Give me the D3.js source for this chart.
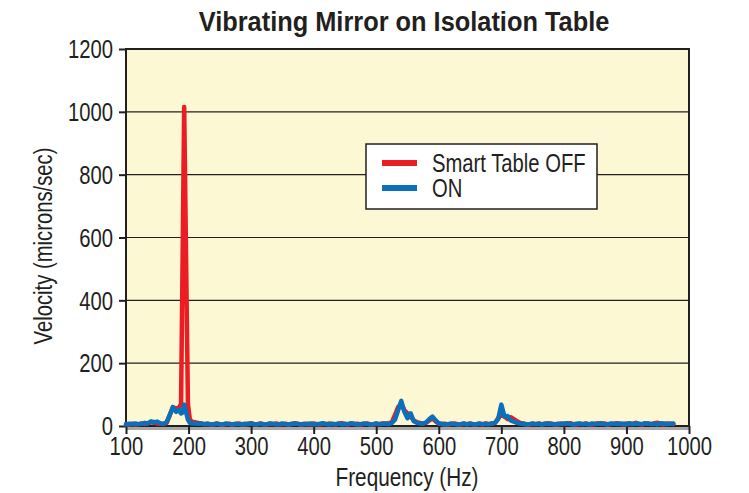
<!DOCTYPE html>
<head>
  <meta charset="utf-8">
  <script src="https://d3js.org/d3.v7.min.js"></script>
  <style>
    body { margin:0; background:#fff; }
    text { fill:#231f20; font-family:"Liberation Sans",Arial,sans-serif; }
  </style>
</head>
<body>
<script>
// frequency (Hz), shared by both series
var freq = [
  100,105,110,115,120,125,130,135,140,145,
  150,155,160,165,170,175,180,185,188,190,
  193,196,199,202,205,210,215,220,225,230,
  235,240,245,250,255,260,265,270,275,280,
  285,290,295,300,305,310,315,320,325,330,
  335,340,345,350,355,360,365,370,375,380,
  385,390,395,400,405,410,415,420,425,430,
  435,440,445,450,455,460,465,470,475,480,
  485,490,495,500,505,510,515,520,525,530,
  535,540,545,550,555,560,565,570,575,580,
  585,590,595,600,605,610,615,620,625,630,
  635,640,645,650,655,660,665,670,675,680,
  685,690,695,700,705,710,715,720,725,730,
  735,740,745,750,755,760,765,770,775,780,
  785,790,795,800,805,810,815,820,825,830,
  835,840,845,850,855,860,865,870,875,880,
  885,890,895,900,905,910,915,920,925,930,
  935,940,945,950,955,960,965,970,975
];

// Smart Table OFF (microns/sec)
var offValues = [
  6,5,7,5,6,8,6,9,12,10,
  8,7,6,10,35,60,55,60,70,440,
  1015,540,70,22,14,12,10,8,6,7,
  5,6,8,5,4,6,7,5,6,8,
  6,5,7,9,6,5,8,6,5,7,
  6,8,5,6,7,5,6,9,7,5,
  6,7,5,8,6,5,7,6,8,6,
  5,7,9,6,5,8,6,7,5,6,
  8,6,5,7,6,8,7,9,12,35,
  60,70,50,40,30,18,12,10,8,10,
  18,25,15,8,6,7,5,6,8,6,
  5,7,6,8,5,6,7,5,8,6,
  8,10,25,35,30,22,28,22,15,10,
  8,6,5,7,6,8,5,6,9,7,
  6,5,8,6,7,9,6,5,7,6,
  8,6,5,7,9,6,8,5,6,7,
  9,6,5,8,6,7,10,6,5,8,
  7,6,9,10,6,5,8,7,6
];

// Smart Table ON (microns/sec)
var onValues = [
  5,7,6,8,6,7,10,8,15,12,
  14,8,7,12,35,60,45,52,40,42,
  68,45,20,10,8,9,7,8,6,7,
  6,5,7,6,5,8,6,5,7,6,
  5,7,6,8,5,6,7,5,6,8,
  7,5,6,8,6,5,7,8,6,5,
  7,6,8,5,6,7,9,6,5,7,
  6,8,5,7,6,9,7,5,6,8,
  7,5,6,8,6,7,8,6,10,20,
  50,80,45,25,40,15,10,8,8,12,
  22,30,18,8,7,5,6,8,6,5,
  6,8,5,7,6,5,8,6,7,6,
  8,10,22,68,30,32,18,14,10,8,
  7,5,6,8,6,7,5,8,6,7,
  5,7,6,8,9,6,5,7,8,6,
  7,5,8,6,7,9,6,5,8,7,
  6,8,7,5,9,6,8,7,6,9,
  8,6,7,5,9,8,6,7,8
];

var xTicks = [100,200,300,400,500,600,700,800,900,1000];
var yTicks = [0,200,400,600,800,1000,1200];

var width = 749, height = 493;
var plotLeft = 126, plotRight = 689, plotTop = 49, plotBottom = 426;
var squeeze = 0.81; // the original face is a condensed one

var svg = d3.select("body").append("svg")
  .attr("width", width)
  .attr("height", height);

var x = d3.scaleLinear().domain([100, 1000]).range([plotLeft, plotRight]);
var y = d3.scaleLinear().domain([0, 1200]).range([plotBottom, plotTop]);

// plot background
svg.append("rect")
  .attr("x", plotLeft).attr("y", plotTop)
  .attr("width", plotRight - plotLeft).attr("height", plotBottom - plotTop)
  .attr("fill", "#fdf8d4");

// grid lines
svg.selectAll(".grid")
  .data(yTicks.slice(1, -1))
  .enter().append("line")
  .attr("x1", plotLeft).attr("x2", plotRight)
  .attr("y1", function(d) { return y(d); })
  .attr("y2", function(d) { return y(d); })
  .attr("stroke", "#231f20").attr("stroke-width", 1.2);

// shadow under bottom axis
svg.append("line")
  .attr("x1", plotLeft).attr("x2", plotRight)
  .attr("y1", plotBottom + 2.5).attr("y2", plotBottom + 2.5)
  .attr("stroke", "#a7a7a7").attr("stroke-width", 3);

// frame
svg.append("rect")
  .attr("x", plotLeft).attr("y", plotTop)
  .attr("width", plotRight - plotLeft).attr("height", plotBottom - plotTop)
  .attr("fill", "none")
  .attr("stroke", "#231f20").attr("stroke-width", 2);

// axes
var yAxis = svg.append("g")
  .attr("transform", "translate(" + plotLeft + ",0)")
  .call(d3.axisLeft(y).tickValues(yTicks).tickSize(7).tickPadding(6).tickFormat(d3.format("d")));
var xAxis = svg.append("g")
  .attr("transform", "translate(0," + plotBottom + ")")
  .call(d3.axisBottom(x).tickValues(xTicks).tickSize(8).tickPadding(3).tickFormat(d3.format("d")));

[yAxis, xAxis].forEach(function(g) {
  g.select(".domain").remove();
  g.selectAll(".tick line").attr("stroke", "#231f20").attr("stroke-width", 2);
  g.selectAll(".tick text")
    .style("font-family", '"Liberation Sans",Arial,sans-serif')
    .style("font-size", "25px")
    .attr("fill", "#231f20");
});
yAxis.selectAll(".tick text")
  .attr("x", -13 / squeeze)
  .attr("dy", "0.35em")
  .attr("transform", "scale(" + squeeze + ",1)");
xAxis.selectAll(".tick text")
  .attr("transform", "scale(" + squeeze + ",1)");

// data lines
var line = d3.line()
  .x(function(d) { return x(d[0]); })
  .y(function(d) { return y(d[1]); });

var series = [
  { values: offValues, color: "#ec1c24" },
  { values: onValues, color: "#0b6fba" }
];

svg.selectAll(".series")
  .data(series)
  .enter().append("path")
  .attr("d", function(s) { return line(freq.map(function(f, i) { return [f, s.values[i]]; })); })
  .attr("fill", "none")
  .attr("stroke", function(s) { return s.color; })
  .attr("stroke-width", 4.5)
  .attr("stroke-linejoin", "round")
  .attr("stroke-linecap", "round");

function label(px, py, txt, size, sx, extra) {
  return svg.append("text")
    .attr("transform", "translate(" + px + "," + py + ")" + (extra || "") + " scale(" + sx + ",1)")
    .style("font-size", size + "px")
    .text(txt);
}

// legend
svg.append("rect")
  .attr("x", 366).attr("y", 144)
  .attr("width", 231).attr("height", 65)
  .attr("fill", "#fff")
  .attr("stroke", "#231f20").attr("stroke-width", 1.5);

var legendItems = [
  { label: "Smart Table OFF", color: "#ec1c24" },
  { label: "ON", color: "#0b6fba" }
];
legendItems.forEach(function(d, i) {
  var ly = 163 + i * 25;
  svg.append("line")
    .attr("x1", 382).attr("x2", 417)
    .attr("y1", ly).attr("y2", ly)
    .attr("stroke", d.color).attr("stroke-width", 6);
  label(432, ly + 9, d.label, 25, squeeze);
});

// title
label(404, 31, "Vibrating Mirror on Isolation Table", 27, 0.94)
  .attr("text-anchor", "middle")
  .style("font-weight", "bold");

// axis titles
label(407, 486, "Frequency (Hz)", 25, 0.83).attr("text-anchor", "middle");
label(52, 246, "Velocity (microns/sec)", 25, 0.81, " rotate(-90)").attr("text-anchor", "middle");
</script>
</body>
